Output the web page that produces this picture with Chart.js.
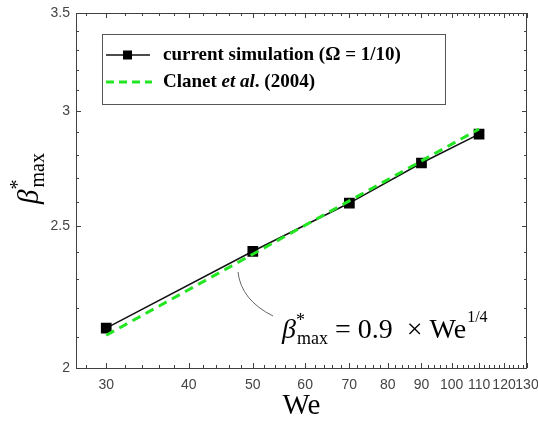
<!DOCTYPE html>
<html>
<head>
<meta charset="utf-8">
<script src="https://cdn.jsdelivr.net/npm/chart.js@4.4.1/dist/chart.umd.min.js"></script>
<style>
  html, body { margin: 0; padding: 0; background: #fff; }
  #wrap { width: 538px; height: 421px; }
</style>
</head>
<body>
<div id="wrap"><canvas id="chart" width="538" height="421"></canvas></div>
<script>
// values
var weValues = [30, 50, 70, 90, 110];
var simBeta = [2.130, 2.404, 2.594, 2.763, 2.892];
var clanetBeta = [2.106, 2.393, 2.603, 2.772, 2.915];
var xTickLabels = [30, 40, 50, 60, 70, 80, 90, 100, 110, 120, 130];
var yTickLabels = [2, 2.5, 3, 3.5];

var SERIF = '"Liberation Serif", "Times New Roman", serif';
var SANS = '"Liberation Sans", Arial, sans-serif';
var AXIS_COLOR = '#404040';
var GREEN = '#22e622';

function points(ys) {
  return weValues.map(function (x, i) { return { x: x, y: ys[i] }; });
}

// draws a run of text pieces, each with its own font
function drawPieces(ctx, x, y, pieces) {
  pieces.forEach(function (p) {
    ctx.font = p.font;
    ctx.fillText(p.text, x, y + (p.dy || 0));
    x += ctx.measureText(p.text).width;
  });
  return x;
}

var decor = {
  id: 'decor',
  afterDraw: function (chart) {
    var ctx = chart.ctx;
    var a = chart.chartArea;
    var xs = chart.scales.x, ys = chart.scales.y;
    ctx.save();

    // box
    ctx.strokeStyle = AXIS_COLOR;
    ctx.lineWidth = 1;
    ctx.strokeRect(Math.round(a.left) + 0.5, Math.round(a.top) + 0.5,
      Math.round(a.right - a.left) - 1, Math.round(a.bottom - a.top));

    // inward ticks on all four sides
    ctx.beginPath();
    for (var v = 28; v <= 130; v += 2) {
      var len = (v % 10 === 0) ? 5 : 3;
      var px = Math.round(xs.getPixelForValue(v)) + 0.5;
      ctx.moveTo(px, a.bottom); ctx.lineTo(px, a.bottom - len);
      ctx.moveTo(px, a.top); ctx.lineTo(px, a.top + len);
    }
    for (var k = 20; k <= 35; k++) {
      var l2 = (k % 5 === 0) ? 5 : 3;
      var py = Math.round(ys.getPixelForValue(k / 10)) + 0.5;
      ctx.moveTo(a.left, py); ctx.lineTo(a.left + l2, py);
      ctx.moveTo(a.right, py); ctx.lineTo(a.right - l2, py);
    }
    ctx.stroke();

    // legend
    var lx = 102, ly = 34, lw = 343, lh = 70;
    ctx.fillStyle = '#fff';
    ctx.fillRect(lx, ly, lw, lh);
    ctx.strokeStyle = '#555';
    ctx.strokeRect(lx + 0.5, ly + 0.5, lw, lh);

    var r1 = ly + 21, r2 = ly + 48;
    ctx.strokeStyle = '#111';
    ctx.lineWidth = 1.5;
    ctx.beginPath(); ctx.moveTo(lx + 4, r1); ctx.lineTo(lx + 48, r1); ctx.stroke();
    ctx.fillStyle = '#000';
    ctx.fillRect(lx + 21, r1 - 4.5, 9, 9);

    ctx.strokeStyle = GREEN;
    ctx.lineWidth = 3;
    ctx.setLineDash([8, 5]);
    ctx.beginPath(); ctx.moveTo(lx + 4, r2); ctx.lineTo(lx + 50, r2); ctx.stroke();
    ctx.setLineDash([]);

    ctx.fillStyle = '#000';
    ctx.textBaseline = 'middle';
    ctx.textAlign = 'left';
    ctx.font = 'bold 19px ' + SERIF;
    ctx.fillText('current simulation (\u03A9 = 1/10)', lx + 61, r1);
    drawPieces(ctx, lx + 61, r2, [
      { text: 'Clanet ', font: 'bold 19px ' + SERIF },
      { text: 'et al', font: 'italic bold 19px ' + SERIF },
      { text: '. (2004)', font: 'bold 19px ' + SERIF }
    ]);

    // annotation leader
    ctx.strokeStyle = '#666';
    ctx.lineWidth = 1;
    ctx.beginPath();
    ctx.moveTo(238, 272);
    ctx.quadraticCurveTo(241, 300, 273, 316);
    ctx.stroke();

    // annotation text
    ctx.textBaseline = 'alphabetic';
    ctx.fillStyle = '#000';
    var ax = 282, ay = 338;
    ctx.font = 'italic 28px ' + SERIF;
    ctx.fillText('\u03B2', ax, ay);
    var bw = ctx.measureText('\u03B2').width;
    ctx.font = '18px ' + SERIF;
    ctx.fillText('*', ax + bw, ay - 12);
    ctx.fillText('max', ax + bw + 1, ay + 6);
    var nx = ax + bw + 1 + ctx.measureText('max').width + 7;
    nx = drawPieces(ctx, nx, ay, [
      { text: '= 0.9  \u00D7 We', font: '28px ' + SERIF }
    ]);
    ctx.font = '16px ' + SERIF;
    ctx.fillText('1/4', nx + 1, ay - 16);

    // x title
    ctx.textAlign = 'center';
    ctx.font = '29px ' + SERIF;
    ctx.fillText('We', (a.left + a.right) / 2, 414);

    // y title, rotated
    ctx.translate(42, (a.top + a.bottom) / 2 - 12);
    ctx.rotate(-Math.PI / 2);
    ctx.textAlign = 'left';
    ctx.font = 'italic 29px ' + SERIF;
    var bW = ctx.measureText('\u03B2').width;
    ctx.font = '20px ' + SERIF;
    var mW = ctx.measureText('max').width;
    var start = -(bW + mW + 2) / 2;
    ctx.font = 'italic 29px ' + SERIF;
    ctx.fillText('\u03B2', start, -4);
    ctx.font = '20px ' + SERIF;
    ctx.fillText('*', start + bW, -18);
    ctx.fillText('max', start + bW + 2, 2);

    ctx.restore();
  }
};

new Chart(document.getElementById('chart'), {
  type: 'scatter',
  data: {
    datasets: [{
      label: 'Clanet et al. (2004)',
      data: points(clanetBeta),
      showLine: true,
      borderColor: GREEN,
      borderWidth: 3,
      borderDash: [9, 6],
      pointRadius: 0,
      fill: false
    }, {
      label: 'current simulation (\u03A9 = 1/10)',
      data: points(simBeta),
      showLine: true,
      borderColor: '#111',
      borderWidth: 1.5,
      pointStyle: 'rect',
      pointRadius: 6.5,
      pointBackgroundColor: '#000',
      pointBorderColor: '#000',
      fill: false
    }]
  },
  options: {
    responsive: false,
    animation: false,
    devicePixelRatio: 1,
    layout: { padding: { top: 13, right: 11, left: 0, bottom: 0 } },
    plugins: { legend: { display: false }, tooltip: { enabled: false } },
    scales: {
      x: {
        type: 'logarithmic',
        min: 27,
        max: 130,
        grid: { display: false, drawTicks: false },
        border: { display: false },
        afterBuildTicks: function (s) {
          s.ticks = xTickLabels.map(function (v) { return { value: v }; });
        },
        afterFit: function (s) {
          s.height = 53;
          s.paddingLeft = 0;
          s.paddingRight = 0;
        },
        ticks: {
          autoSkip: false,
          maxRotation: 0,
          padding: 9,
          color: '#444',
          font: { family: SANS, size: 14 },
          callback: function (v) { return String(v); }
        }
      },
      y: {
        type: 'logarithmic',
        min: 2,
        max: 3.5,
        grid: { display: false, drawTicks: false },
        border: { display: false },
        afterBuildTicks: function (s) {
          s.ticks = yTickLabels.map(function (v) { return { value: v }; });
        },
        afterFit: function (s) {
          s.width = 76;
          s.paddingTop = 0;
          s.paddingBottom = 0;
        },
        ticks: {
          padding: 6,
          color: '#444',
          font: { family: SANS, size: 14 },
          callback: function (v) { return String(v); }
        }
      }
    }
  },
  plugins: [decor]
});
</script>
</body>
</html>
